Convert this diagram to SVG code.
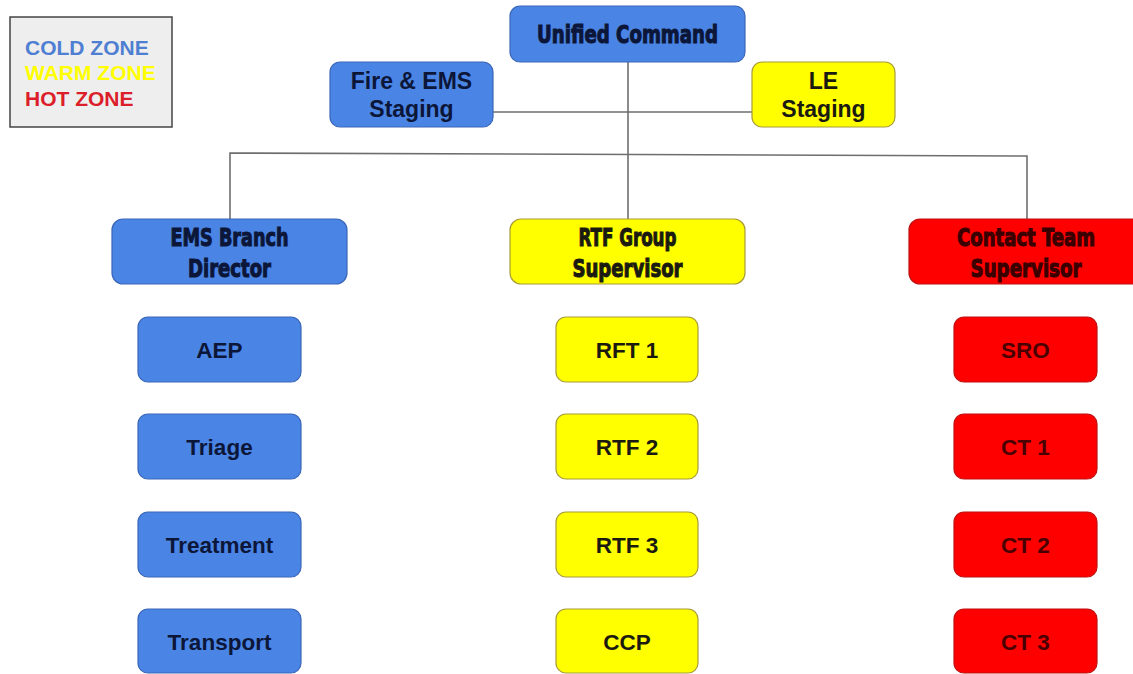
<svg xmlns="http://www.w3.org/2000/svg" width="1133" height="674" viewBox="0 0 1133 674">
<style>
.bg{fill:#ffffff}
.blue{fill:#4a84e4;stroke:#3a66b8;stroke-width:1.2}
.yellow{fill:#ffff00;stroke:#a89c3a;stroke-width:1.2}
.red{fill:#ff0000;stroke:#c01010;stroke-width:1.2}
.lbl{font-family:"Liberation Sans",Arial,sans-serif;font-weight:bold;font-size:22.5px;text-anchor:middle}
.stg{font-size:23px}
.hd{font-family:"Liberation Sans Narrow","DejaVu Sans Condensed","Liberation Sans",sans-serif;font-weight:bold;font-size:24.5px;text-anchor:middle;stroke-width:1}
.tb{fill:#0c1638;stroke:#0c1638}
.ty{fill:#1a1a10;stroke:#1a1a10}
.tr{fill:#3a0000;stroke:#3a0000}
.sb{fill:#0c1638}
.sy{fill:#1a1a10}
.sr{fill:#4a0000}
.conn{fill:none;stroke:#6e6e6e;stroke-width:1.6}
.leg{font-family:"Liberation Sans",Arial,sans-serif;font-weight:bold;font-size:21px}
</style>
<rect class="bg" x="0" y="0" width="1133" height="674"/>

<g id="legend">
  <rect x="10" y="17" width="162" height="110" fill="#eeeeee" stroke="#444444" stroke-width="1.5"/>
  <text class="leg" x="25" y="54.5" fill="#4f7fd2">COLD ZONE</text>
  <text class="leg" x="25" y="80" fill="#ffff00">WARM ZONE</text>
  <text class="leg" x="25" y="105.5" fill="#dc1e2a">HOT ZONE</text>
</g>

<g id="connectors">
  <line class="conn" x1="628" y1="62" x2="628" y2="219"/>
  <line class="conn" x1="493" y1="112" x2="752" y2="112"/>
  <polyline class="conn" points="230,219 230,153 1027,156 1027,219"/>
</g>

<g id="unified-command">
  <rect class="blue" x="510" y="6" width="235" height="56" rx="10"/>
  <text class="hd tb" x="627.5" y="43" textLength="181" lengthAdjust="spacingAndGlyphs">Unified Command</text>
</g>
<g id="fire-ems-staging">
  <rect class="blue" x="330" y="62" width="163" height="65" rx="10"/>
  <text class="lbl stg sb" x="411.5" y="88.5">Fire &amp; EMS</text>
  <text class="lbl stg sb" x="411.5" y="116.5">Staging</text>
</g>
<g id="le-staging">
  <rect class="yellow" x="752" y="62" width="143" height="65" rx="10"/>
  <text class="lbl stg sy" x="823.5" y="88.5">LE</text>
  <text class="lbl stg sy" x="823.5" y="116.5">Staging</text>
</g>

<g id="ems-branch-director">
  <rect class="blue" x="112" y="219" width="235" height="65" rx="11"/>
  <text class="hd tb" x="229.5" y="246" textLength="118" lengthAdjust="spacingAndGlyphs">EMS Branch</text>
  <text class="hd tb" x="229.5" y="277" textLength="83" lengthAdjust="spacingAndGlyphs">Director</text>
</g>
<g id="rtf-group-supervisor">
  <rect class="yellow" x="510" y="219" width="235" height="65" rx="11"/>
  <text class="hd ty" x="627.5" y="246" textLength="98" lengthAdjust="spacingAndGlyphs">RTF Group</text>
  <text class="hd ty" x="627.5" y="277" textLength="110" lengthAdjust="spacingAndGlyphs">Supervisor</text>
</g>
<g id="contact-team-supervisor">
  <rect class="red" x="909" y="219" width="234" height="65" rx="11"/>
  <text class="hd tr" x="1026" y="246" textLength="138" lengthAdjust="spacingAndGlyphs">Contact Team</text>
  <text class="hd tr" x="1026" y="277" textLength="111" lengthAdjust="spacingAndGlyphs">Supervisor</text>
</g>

<g id="aep">
  <rect class="blue" x="138" y="317" width="163" height="65" rx="10"/>
  <text class="lbl sb" x="219.5" y="358">AEP</text>
</g>
<g id="triage">
  <rect class="blue" x="138" y="414" width="163" height="65" rx="10"/>
  <text class="lbl sb" x="219.5" y="455">Triage</text>
</g>
<g id="treatment">
  <rect class="blue" x="138" y="512" width="163" height="65" rx="10"/>
  <text class="lbl sb" x="219.5" y="553">Treatment</text>
</g>
<g id="transport">
  <rect class="blue" x="138" y="609" width="163" height="64" rx="10"/>
  <text class="lbl sb" x="219.5" y="650">Transport</text>
</g>

<g id="rft-1">
  <rect class="yellow" x="556" y="317" width="142" height="65" rx="10"/>
  <text class="lbl sy" x="627" y="358">RFT 1</text>
</g>
<g id="rtf-2">
  <rect class="yellow" x="556" y="414" width="142" height="65" rx="10"/>
  <text class="lbl sy" x="627" y="455">RTF 2</text>
</g>
<g id="rtf-3">
  <rect class="yellow" x="556" y="512" width="142" height="65" rx="10"/>
  <text class="lbl sy" x="627" y="553">RTF 3</text>
</g>
<g id="ccp">
  <rect class="yellow" x="556" y="609" width="142" height="64" rx="10"/>
  <text class="lbl sy" x="627" y="650">CCP</text>
</g>

<g id="sro">
  <rect class="red" x="954" y="317" width="143" height="65" rx="10"/>
  <text class="lbl sr" x="1025.5" y="358">SRO</text>
</g>
<g id="ct-1">
  <rect class="red" x="954" y="414" width="143" height="65" rx="10"/>
  <text class="lbl sr" x="1025.5" y="455">CT 1</text>
</g>
<g id="ct-2">
  <rect class="red" x="954" y="512" width="143" height="65" rx="10"/>
  <text class="lbl sr" x="1025.5" y="553">CT 2</text>
</g>
<g id="ct-3">
  <rect class="red" x="954" y="609" width="143" height="64" rx="10"/>
  <text class="lbl sr" x="1025.5" y="650">CT 3</text>
</g>
</svg>
